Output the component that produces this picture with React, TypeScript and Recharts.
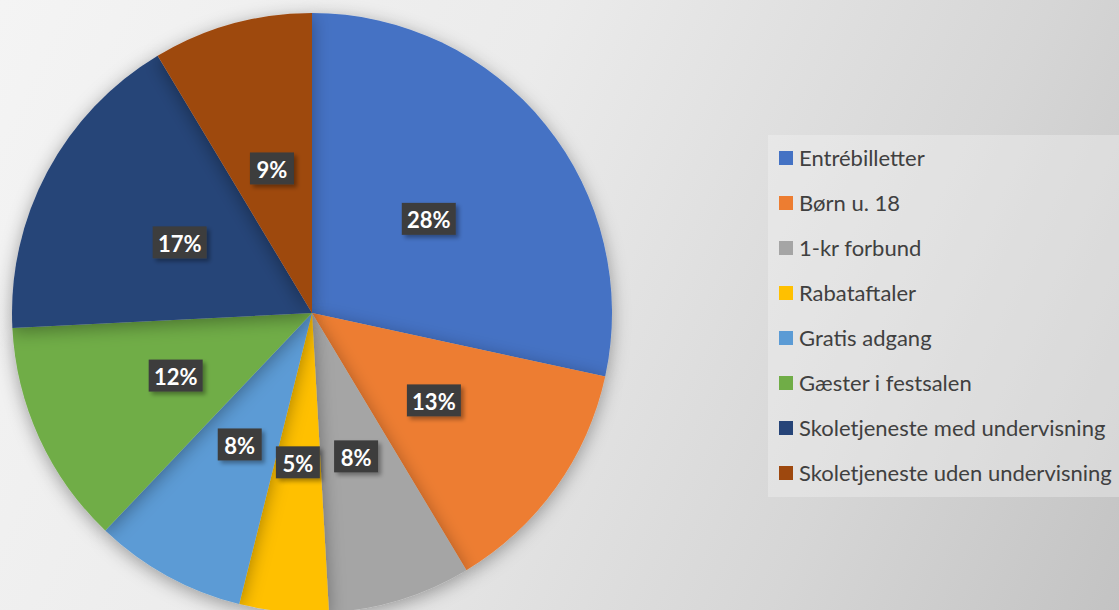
import { PieChart, Pie, Cell, Legend } from 'recharts'

const categories = [
  'Entrébilletter',
  'Børn u. 18',
  '1-kr forbund',
  'Rabataftaler',
  'Gratis adgang',
  'Gæster i festsalen',
  'Skoletjeneste med undervisning',
  'Skoletjeneste uden undervisning',
]
const shares = [28.4, 13.0, 7.7, 4.8, 8.2, 12.1, 17.2, 8.6]
const colors = ['#4472c4', '#ed7d31', '#a5a5a5', '#ffc000', '#5b9bd5', '#70ad47', '#264478', '#9e480e']

const data = categories.map((name, i) => ({ name, value: shares[i] }))

const RAD = Math.PI / 180

function renderLabel(props: any) {
  const { cx, cy, midAngle, percent } = props
  const r = 150
  const x = cx + r * Math.cos(-midAngle * RAD)
  const y = cy + r * Math.sin(-midAngle * RAD)
  const text = `${Math.round(percent * 100)}%`
  const w = text.length > 2 ? 54 : 44
  return (
    <g>
      <rect x={x - w / 2} y={y - 16} width={w} height={32} fill="#3d3d3d" filter="url(#lblShadow)" />
      <text
        x={x}
        y={y + 1}
        fill="#fff"
        textAnchor="middle"
        dominantBaseline="central"
        style={{ fontFamily: 'Lato, sans-serif', fontWeight: 700, fontSize: 22 }}
      >
        {text}
      </text>
    </g>
  )
}

function renderLegend() {
  return (
    <div
      style={{
        background: 'rgba(245,245,245,0.35)',
        width: 351,
        height: 362,
        boxSizing: 'border-box',
        fontFamily: 'Lato, sans-serif',
        fontSize: 22,
        color: '#404040',
      }}
    >
      {categories.map((c, i) => (
        <div key={c} style={{ display: 'flex', alignItems: 'center', height: 45, paddingLeft: 11 }}>
          <span style={{ width: 14, height: 14, background: colors[i], marginRight: 6, display: 'inline-block' }} />
          <span>{c}</span>
        </div>
      ))}
    </div>
  )
}

export default function App() {
  return (
    <div
      style={{
        position: 'absolute',
        left: 0,
        top: 0,
        width: 1119,
        height: 610,
        background: 'linear-gradient(115deg, #f4f4f4 0%, #ebebeb 40%, #d6d6d6 75%, #c3c3c3 100%)',
        overflow: 'hidden',
      }}
    >
      <PieChart width={1119} height={610} margin={{ top: 0, right: 0, bottom: 0, left: 0 }}>
        <defs>
          <filter id="pieShadow" x="-20%" y="-20%" width="140%" height="140%">
            <feDropShadow dx="0" dy="4" stdDeviation="9" floodColor="#000" floodOpacity="0.35" />
          </filter>
          <filter id="lblShadow" x="-30%" y="-30%" width="170%" height="170%">
            <feDropShadow dx="3" dy="3" stdDeviation="2" floodColor="#000" floodOpacity="0.35" />
          </filter>
        </defs>
        <Pie
          data={data}
          dataKey="value"
          nameKey="name"
          cx={312}
          cy={313}
          outerRadius={300}
          startAngle={90}
          endAngle={-270}
          stroke="none"
          label={renderLabel}
          labelLine={false}
          isAnimationActive={false}
          style={{ filter: 'url(#pieShadow)' }}
        >
          {data.map((d, i) => (
            <Cell key={d.name} fill={colors[i]} />
          ))}
        </Pie>
        <Legend
          content={renderLegend}
          wrapperStyle={{ position: 'absolute', left: 768, top: 135, width: 351, height: 362 }}
        />
      </PieChart>
    </div>
  )
}
